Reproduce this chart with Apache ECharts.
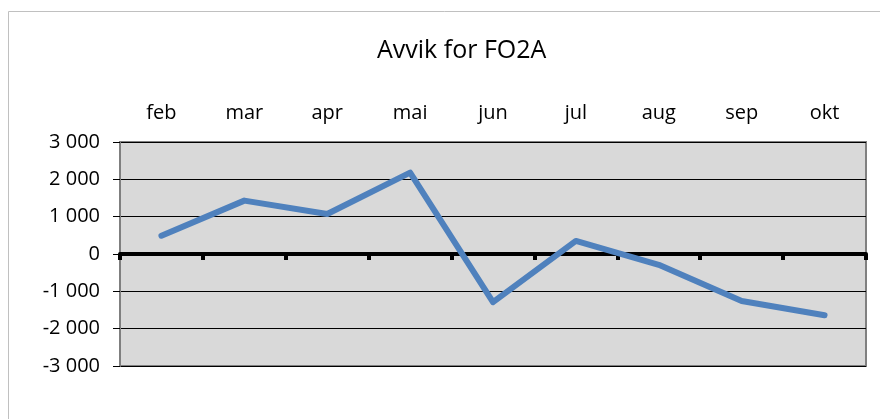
<!DOCTYPE html>
<html>
<head>
<meta charset="utf-8">
<script src="https://cdn.jsdelivr.net/npm/echarts@6/dist/echarts.min.js"></script>
<style>
  html, body { margin: 0; padding: 0; background: #fff; }
  #chart { width: 880px; height: 419px; }
</style>
</head>
<body>
<div id="chart"></div>
<script>
// Avvik for FO2A
const months = ['feb', 'mar', 'apr', 'mai', 'jun', 'jul', 'aug', 'sep', 'okt'];
const avvik = [490, 1430, 1070, 2180, -1290, 350, -290, -1260, -1640];
const yMin = -3000, yMax = 3000, yStep = 1000;

const font = 'Open Sans';

function fmt(v) {
  // 3000 -> "3 000"
  const s = String(Math.abs(v)).replace(/\B(?=(\d{3})+(?!\d))/g, ' ');
  return (v < 0 ? '-' : '') + s;
}

let myChart = echarts.init(document.getElementById('chart'));
myChart.setOption({
  animation: false,
  backgroundColor: '#fff',
  graphic: [
    { // outer chart frame
      type: 'rect', silent: true,
      shape: { x: 8.5, y: 11.5, width: 900, height: 500 },
      style: { fill: 'none', stroke: '#c0c0c0', lineWidth: 1 }
    }
  ],
  title: {
    text: 'Avvik for FO2A',
    left: 372, top: 33,
    textStyle: { fontFamily: font, fontSize: 25, fontWeight: 'normal', color: '#000' }
  },
  grid: {
    left: 120, right: 14, top: 142, bottom: 53,
    show: true, backgroundColor: '#d9d9d9', borderColor: '#808080', borderWidth: 2
  },
  xAxis: [
    { // labels along the top
      type: 'category', data: months, position: 'top',
      axisLine: { show: false, onZero: false }, axisTick: { show: false },
      axisLabel: { margin: 19, fontFamily: font, fontSize: 20, color: '#000' }
    },
    { // zero line with ticks
      type: 'category', data: months, position: 'bottom',
      axisLine: { onZero: true, lineStyle: { color: '#000', width: 4 } },
      axisTick: { show: true, length: 6, lineStyle: { color: '#000', width: 4 } },
      axisLabel: { show: false }
    }
  ],
  yAxis: {
    type: 'value', min: yMin, max: yMax, interval: yStep,
    axisLine: { show: true, lineStyle: { color: '#7f7f7f', width: 2 } },
    axisTick: { show: true, length: 7, lineStyle: { color: '#000', width: 1 } },
    axisLabel: { margin: 20, fontFamily: font, fontSize: 20, color: '#000', formatter: fmt },
    splitLine: { lineStyle: { color: '#000', width: 1 } }
  },
  series: [{
    type: 'line', xAxisIndex: 0, data: avvik,
    showSymbol: false, symbol: 'none',
    lineStyle: { color: '#4f81bd', width: 6, cap: 'round', join: 'round' },
    z: 5
  }]
});
</script>
</body>
</html>
